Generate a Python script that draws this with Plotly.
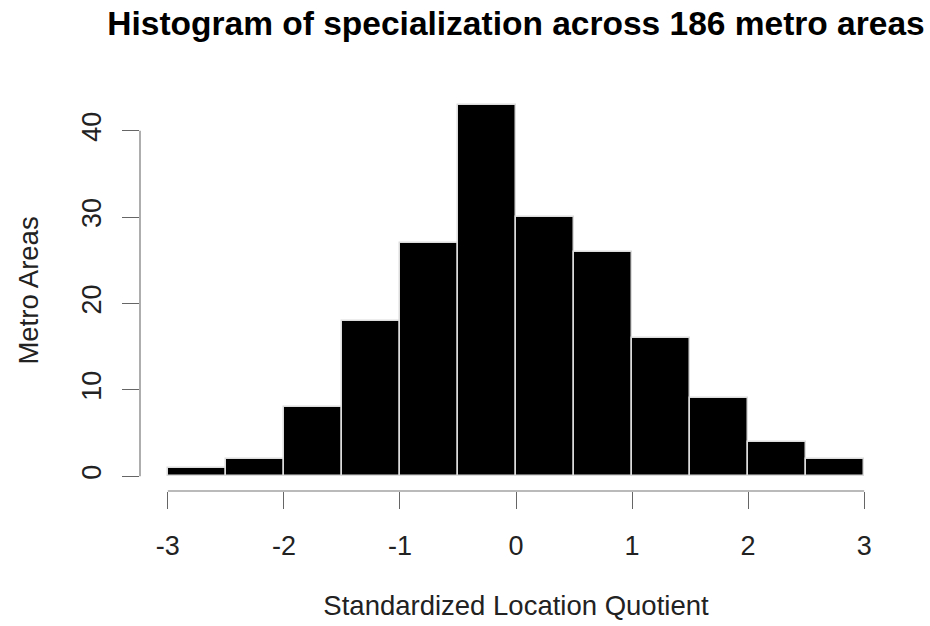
import plotly.graph_objects as go

bin_left = [-3.0, -2.5, -2.0, -1.5, -1.0, -0.5, 0.0, 0.5, 1.0, 1.5, 2.0, 2.5]
counts = [1, 2, 8, 18, 27, 43, 30, 26, 16, 9, 4, 2]
x_ticks = [-3, -2, -1, 0, 1, 2, 3]
y_ticks = [0, 10, 20, 30, 40]
bin_width = 0.5

centers = [b + bin_width / 2 for b in bin_left]

fig = go.Figure()
fig.add_trace(go.Bar(
    x=centers, y=counts, width=bin_width,
    marker=dict(color="black", line=dict(color="#dcdcdc", width=1.5)),
    hoverinfo="skip",
))

xmin, xmax = min(bin_left), max(bin_left) + bin_width
ymax = max(counts)
xpad = (xmax - xmin) * 0.04
ypad = ymax * 0.04

fig.update_layout(
    width=930, height=626,
    margin=dict(l=140, r=38, t=90, b=135),
    plot_bgcolor="white", paper_bgcolor="white",
    font=dict(family="Liberation Sans, Arial, sans-serif", size=27, color="#222"),
    showlegend=False,
    bargap=0,
    title=dict(text="<b>Histogram of specialization across 186 metro areas</b>",
               x=0.5, xref="paper", xanchor="center", y=0.963, yanchor="middle",
               font=dict(size=33.5, color="black")),
    xaxis=dict(range=[xmin - xpad, xmax + xpad], tickvals=x_ticks,
               ticktext=[str(v) for v in x_ticks], automargin=False,
               showgrid=False, zeroline=False, showline=False,
               ticks="outside", ticklen=17, tickcolor="#666", tickwidth=1.2,
               ticklabelstandoff=14,
               title=dict(text="Standardized Location Quotient", standoff=35,
                          font=dict(size=27.5))),
    yaxis=dict(range=[-ypad, ymax + ypad], tickvals=y_ticks, automargin=False,
               showgrid=False, zeroline=False, showline=False,
               ticks="outside", ticklen=17, tickcolor="#666", tickwidth=1.2,
               tickangle=-90, ticklabelstandoff=10,
               title=dict(text="Metro Areas", standoff=30, font=dict(size=27.5))),
)

# R-style axis lines spanning only tick range
fig.add_shape(type="line", xref="x", yref="paper", x0=x_ticks[0], x1=x_ticks[-1],
              y0=0, y1=0, line=dict(color="#777", width=1.2))
fig.add_shape(type="line", xref="paper", yref="y", x0=0, x1=0,
              y0=y_ticks[0], y1=y_ticks[-1], line=dict(color="#777", width=1.2))

fig.write_html("out.html")
